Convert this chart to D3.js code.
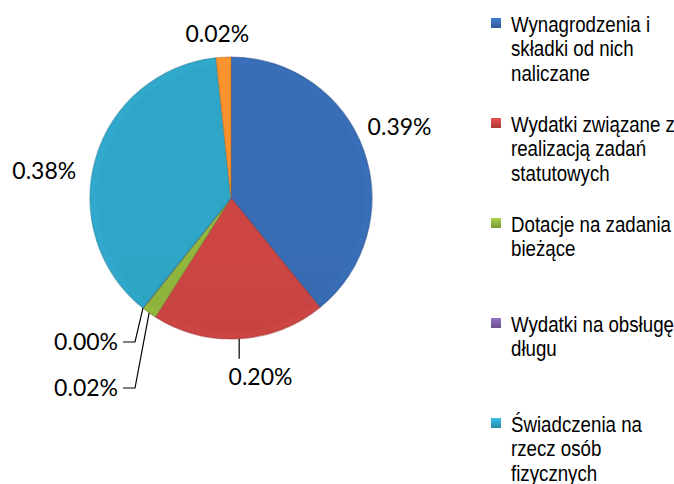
<!DOCTYPE html>
<html>
<head>
<meta charset="utf-8">
<script src="https://cdn.jsdelivr.net/npm/d3@7"></script>
<style>
  body { margin: 0; background: #fff; }
  svg { display: block; }
</style>
</head>
<body>
<svg id="svg_elem"></svg>
<script>
//define constants
const svgWidth = 674;
const svgHeight = 484;
const cx = 231, cy = 198, radius = 141;

//chart data
const categories = [
	'Wynagrodzenia i\nskładki od nich\nnaliczane',
	'Wydatki związane z\nrealizacją zadań\nstatutowych',
	'Dotacje na zadania\nbieżące',
	'Wydatki na obsługę\ndługu',
	'Świadczenia na\nrzecz osób\nfizycznych',
	'Wydatki\nmajątkowe'
];
const values = [0.392, 0.199, 0.017, 0.0005, 0.376, 0.017];
const colors = ['#3566ab', '#c24240', '#8aad3a', '#7a5ca0', '#2d9dbd', '#ee8a2a'];

//label layout (nudges from the default spot outside each slice)
const labelLayout = [
	{dx: -2, dy: -10},
	{dx: 19, dy: -2, leader: 20},
	{elbow: [-96, 190]},
	{elbow: [-96, 144]},
	{dx: -13, dy: 24},
	{dx: -4, dy: 17}
];

const data = categories.map((c, i) => ({name: c, value: values[i], color: colors[i]}));

const svg = d3.select('#svg_elem')
	.attr('width', svgWidth)
	.attr('height', svgHeight);

const defs = svg.append('defs');

//gradients for bevel look
data.forEach((d, i) => {
	const g = defs.append('linearGradient')
		.attr('id', 'grad' + i)
		.attr('gradientUnits', 'userSpaceOnUse')
		.attr('x1', 0).attr('y1', cy - radius)
		.attr('x2', 0).attr('y2', cy + radius);
	g.append('stop').attr('offset', '0%').attr('stop-color', d3.color(d.color).brighter(0.15));
	g.append('stop').attr('offset', '100%').attr('stop-color', d3.color(d.color).darker(0.25));
	const m = defs.append('linearGradient')
		.attr('id', 'mgrad' + i)
		.attr('x1', 0).attr('y1', 0).attr('x2', 0).attr('y2', 1);
	m.append('stop').attr('offset', '0%').attr('stop-color', d3.color(d.color).brighter(0.6));
	m.append('stop').attr('offset', '100%').attr('stop-color', d3.color(d.color).darker(0.4));
});

//pie
const pie = d3.pie()
	.value(d => d.value)
	.sort(null);
const arcs = pie(data);

const arcPath = d3.arc().innerRadius(0).outerRadius(radius);
const rimPath = d3.arc().innerRadius(radius - 7).outerRadius(radius - 1);

const chart = svg.append('g')
	.attr('transform', `translate(${cx}, ${cy})`);

chart.selectAll('.arc')
	.data(arcs)
	.enter()
	.append('path')
		.classed('arc', true)
		.attr('d', arcPath)
		.attr('fill', (d, i) => `url(#grad${i})`)
		.attr('stroke', d => d3.color(d.data.color).darker(0.6))
		.attr('stroke-opacity', 0.5)
		.attr('stroke-width', 1.2);

//rim shading
chart.selectAll('.rim')
	.data(arcs)
	.enter()
	.append('path')
		.classed('rim', true)
		.attr('d', rimPath)
		.attr('fill', d => d3.color(d.data.color).brighter(0.4))
		.attr('fill-opacity', 0.25);

//labels
const fmt = v => v.toFixed(2) + '%';
const labels = svg.append('g').attr('font-family', 'Lato, "Open Sans", sans-serif')
	.attr('font-size', 23);

arcs.forEach((a, i) => {
	const mid = (a.startAngle + a.endAngle) / 2;
	const lay = labelLayout[i];
	const px = Math.sin(mid), py = -Math.cos(mid);
	if (lay.elbow) {
		const ex = cx + lay.elbow[0], ey = cy + lay.elbow[1];
		labels.append('path')
			.attr('d', `M${cx + px * radius},${cy + py * radius}L${ex},${ey}L${ex - 12},${ey}`)
			.attr('fill', 'none')
			.attr('stroke', '#000')
			.attr('stroke-width', 1.2);
		labels.append('text')
			.attr('x', ex - 17)
			.attr('y', ey)
			.attr('dy', '0.35em')
			.attr('text-anchor', 'end')
			.text(fmt(a.data.value));
	} else {
		const lx = cx + px * (radius + 40) + lay.dx;
		const ly = cy + py * (radius + 40) + lay.dy;
		if (lay.leader) {
			const sx = cx + px * radius, sy = cy + py * radius;
			labels.append('path')
				.attr('d', `M${sx},${sy}L${sx},${sy + lay.leader}`)
				.attr('stroke', '#000')
				.attr('stroke-width', 1.2);
		}
		labels.append('text')
			.attr('x', lx)
			.attr('y', ly)
			.attr('dy', '0.35em')
			.attr('text-anchor', 'middle')
			.text(fmt(a.data.value));
	}
});

//legend
const legend = svg.append('g')
	.attr('transform', 'translate(491, 32)');

const item = legend.selectAll('.item')
	.data(data)
	.enter()
	.append('g')
		.classed('item', true)
		.attr('transform', (d, i) => `translate(0, ${i * 100})`);

item.append('rect')
	.attr('x', 0)
	.attr('y', -14)
	.attr('width', 10)
	.attr('height', 10)
	.attr('fill', (d, i) => `url(#mgrad${i})`);

//condensed text, like a narrow font
item.append('text')
	.attr('transform', 'translate(20, 0) scale(0.85, 1)')
	.attr('font-family', '"Liberation Sans", Arial, sans-serif')
	.attr('font-size', 22)
	.attr('fill', '#000')
	.selectAll('tspan')
	.data(d => d.name.split('\n'))
	.enter()
	.append('tspan')
		.attr('x', 0)
		.attr('dy', (d, i) => i === 0 ? 0 : 24.5)
		.text(d => d);
</script>
</body>
</html>
